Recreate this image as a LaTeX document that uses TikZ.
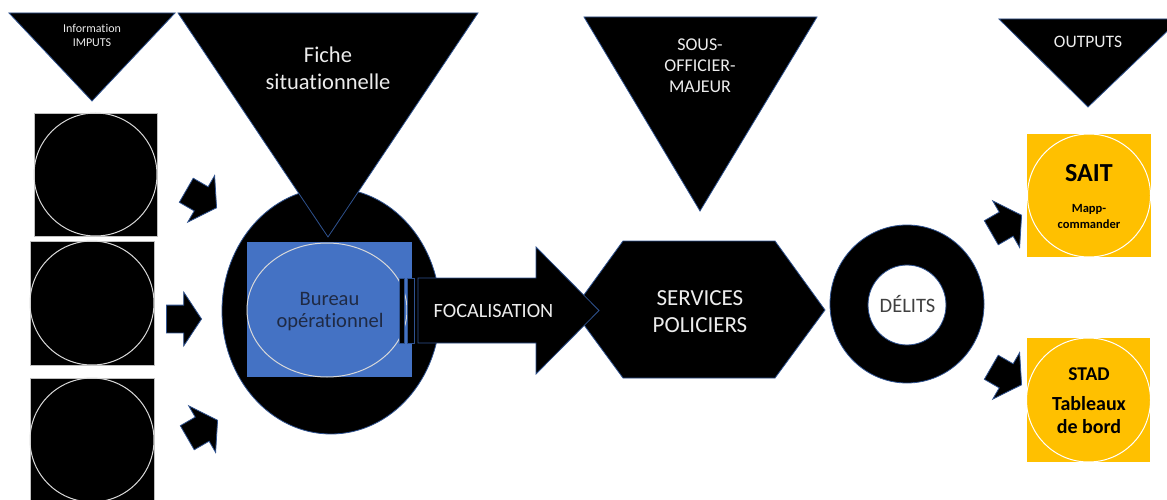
\documentclass[tikz,border=0pt]{standalone}
\usepackage{fontspec}
\setmainfont{Carlito}[Ligatures=NoCommon]
\usetikzlibrary{shapes.arrows}
\definecolor{navy}{HTML}{2F528F}
\definecolor{pblue}{HTML}{4472C4}
\definecolor{pyellow}{HTML}{FFC000}
\definecolor{darktext}{HTML}{1F2A44}
\definecolor{greytext}{HTML}{404040}
\definecolor{lighttext}{HTML}{EDEDED}
\begin{document}
\begin{tikzpicture}[x=1pt,y=-1pt,
  shapeblk/.style={fill=black,draw=navy,line width=0.8pt},
  ringline/.style={draw=white!85!black,line width=1pt},
  sqframe/.style={fill=black,draw=white!75!black,line width=0.6pt},
  smallarrow/.style={single arrow, fill=black, draw=navy, line width=0.8pt,
    inner xsep=0pt, inner ysep=13.5pt, single arrow head extend=13pt,
    single arrow tip angle=113, minimum height=35pt, anchor=tip},
  lbl/.style={anchor=base, inner sep=0pt},
  wlbl/.style={lbl, text=lighttext},
  fs/.style={font=\fontsize{#1}{#1}\selectfont},
  fb/.style={font=\fontsize{#1}{#1}\selectfont\bfseries},
]
\useasboundingbox (0,0) rectangle (1167,500);

% ---- left input squares
\draw[sqframe] (34,113) rectangle (157,236);
\draw[ringline] (95.5,174.5) circle [radius=61.5];
\draw[sqframe] (30,241) rectangle (154,365);
\draw[ringline] (92,303) circle [radius=62];
\draw[sqframe] (30,378) rectangle (154,515);
\draw[ringline] (92,440) circle [radius=62];

% ---- small arrows
\node[smallarrow, rotate=-30] (ar1) at (217,208) {};
\node[smallarrow] (ar2) at (202,319) {};
\node[smallarrow, rotate=30] (ar3) at (218,420) {};
\node[smallarrow, rotate=30] (ar4) at (1022,215) {};
\node[smallarrow, rotate=-30] (ar5) at (1022,385) {};

% ---- big ellipse
\draw[shapeblk] (331,311) ellipse [x radius=109, y radius=123];

% ---- triangles
\draw[shapeblk] (9,13) -- (175,13) -- (92,101) -- cycle;
\draw[shapeblk] (178,13) -- (478,13) -- (328,237) -- cycle;
\draw[shapeblk] (584,17) -- (817,17) -- (700,211) -- cycle;
\draw[shapeblk] (999,19) -- (1180,19) -- (1088,107) -- cycle;

\node[wlbl, fs=12] (info1) at (92,33) {Information};
\node[wlbl, fs=12] (info2) at (92,47) {IMPUTS};
\node[wlbl, fs=22.5] (fiche1) at (328,63) {Fiche};
\node[wlbl, fs=22.5] (fiche2) at (328,90) {situationnelle};
\node[wlbl, fs=18] (som1) at (700,51) {SOUS-};
\node[wlbl, fs=18] (som2) at (700,72) {OFFICIER-};
\node[wlbl, fs=18] (som3) at (700,93) {MAJEUR};
\node[wlbl, fs=17.5] (outp) at (1088,48) {OUTPUTS};

% ---- blue bureau square
\fill[pblue] (247,242) rectangle (412,377);
\draw[ringline] (327,310) ellipse [x radius=80, y radius=67];
\node[lbl, fs=20.5, text=darktext] (bur1) at (329.5,305) {Bureau};
\node[lbl, fs=20.5, text=darktext] (bur2) at (330,327) {opérationnel};

% ---- hexagon
\draw[shapeblk] (573,310) -- (623,241) -- (775,241) -- (825,310) -- (775,378) -- (623,378) -- cycle;
\node[wlbl, fs=23] (serv1) at (700,305) {SERVICES};
\node[wlbl, fs=23] (serv2) at (700,332) {POLICIERS};

% ---- striped arrow FOCALISATION
\draw[shapeblk] (399,278) rectangle (404,343);
\draw[shapeblk] (407,278) rectangle (414,343);
\draw[shapeblk] (418,278) -- (536,278) -- (536,247) -- (599,310.5) -- (536,374) -- (536,343) -- (418,343) -- cycle;
\node[wlbl, fs=20.3] (foc) at (493.5,317) {FOCALISATION};

% ---- donut
\draw[shapeblk, even odd rule] (907,304) ellipse [x radius=77, y radius=79]
  (907,305) ellipse [x radius=39, y radius=40];
\node[lbl, fs=20.5, text=greytext] (delits) at (907.5,312) {DÉLITS};

% ---- outputs
\fill[pyellow] (1027,134) rectangle (1151,257);
\draw[draw=white, line width=1pt] (1089,195.5) circle [radius=61.5];
\node[lbl, fb=26] (sait) at (1089,181) {SAIT};
\node[lbl, fb=12.5] (mapp1) at (1089,212) {Mapp-};
\node[lbl, fb=12.5] (mapp2) at (1089,228) {commander};

\fill[pyellow] (1027,338) rectangle (1150,462);
\draw[draw=white, line width=1pt] (1088.5,400) circle [radius=62];
\node[lbl, fb=19.5] (stad) at (1089,380) {STAD};
\node[lbl, fb=20] (tab1) at (1089,410) {Tableaux};
\node[lbl, fb=20] (tab2) at (1089,433) {de bord};
\end{tikzpicture}
\end{document}
